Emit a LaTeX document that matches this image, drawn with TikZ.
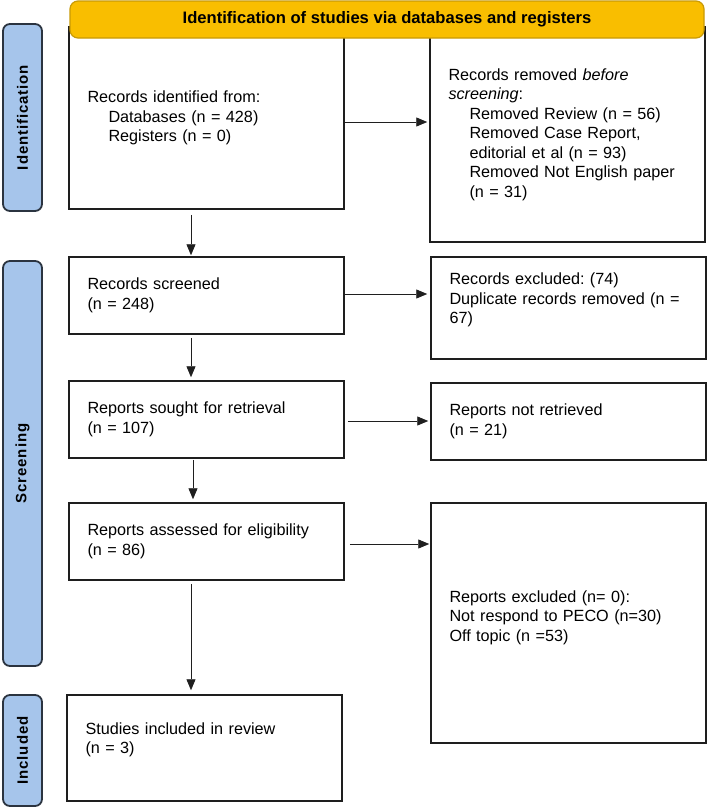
\documentclass[tikz,border=0pt]{standalone}
\usepackage{fontspec}
\setmainfont{Liberation Sans}
\newfontfamily\lblfont{Liberation Sans}[LetterSpace=6]
\usetikzlibrary{arrows.meta}
\definecolor{hdrfill}{HTML}{F9BE00}
\definecolor{hdrdraw}{HTML}{C99A06}
\definecolor{lblfill}{HTML}{A6C5EB}
\definecolor{lbldraw}{HTML}{2B3440}
\definecolor{boxdraw}{HTML}{1E1E1E}
\frenchspacing
\begin{document}
\begin{tikzpicture}[x=1pt,y=-1pt,
  box/.style={draw=boxdraw, line width=1.5pt, fill=white, minimum width=275pt, text width=238pt,
    inner xsep=18.5pt, inner ysep=0pt, align=left, font=\fontsize{16.2}{19.5}\selectfont},
  sidelbl/.style={draw=lbldraw, line width=1.8pt, fill=lblfill, rounded corners=7pt, rotate=90,
    minimum height=39pt, inner sep=0pt, font=\lblfont\bfseries\fontsize{15}{17}\selectfont},
  hdr/.style={draw=hdrdraw, line width=1.2pt, fill=hdrfill, rounded corners=8pt,
    minimum width=634pt, minimum height=37pt, inner sep=0pt, font=\bfseries\fontsize{16.6}{19}\selectfont},
  arr/.style={draw=black!88, line width=0.9pt, -{Triangle[length=11pt,width=9pt]}}
]
\useasboundingbox (0,0) rectangle (708,809);
\fill[white] (0,0) rectangle (708,809);

% side labels
\node[sidelbl, minimum width=187pt] (idlbl) at (22.5,117.5) {Identification};
\node[sidelbl, minimum width=405pt] (scrlbl) at (22.5,463.5) {Screening};
\node[sidelbl, minimum width=111pt] (inclbl) at (22.5,750.5) {Included};

% boxes
\node[box, minimum height=182pt] (idbox) at (206.5,118) {Records identified from:\\
  \hspace*{21pt}Databases (n = 428)\\
  \hspace*{21pt}Registers (n = 0)};
\node[box, minimum height=215pt] (rmbox) at (567.5,134.5) {Records removed \textit{before}\\
  \textit{screening}:\\
  \hspace*{21pt}Removed Review (n = 56)\\
  \hspace*{21pt}Removed Case Report,\\
  \hspace*{21pt}editorial et al (n = 93)\\
  \hspace*{21pt}Removed Not English paper\\
  \hspace*{21pt}(n = 31)};

% header on top
\node[hdr] (hdr) at (387,19.5) {Identification of studies via databases and registers};

\node[box, minimum height=77pt] (scr) at (206.5,295.5) {Records screened\\(n = 248)};
\node[box, minimum height=102pt] (exc) at (568.5,308) {Records excluded: (74)\\Duplicate records removed (n =\\67)\\\mbox{}};
\node[box, minimum height=77pt] (sought) at (206.5,419.5) {Reports sought for retrieval\\(n = 107)};
\node[box, minimum height=77pt] (notret) at (568.5,421.5) {Reports not retrieved\\(n = 21)};
\node[box, minimum height=77pt] (assess) at (206.5,541.5) {Reports assessed for eligibility\\(n = 86)};
\node[box, minimum height=240pt] (repexc) at (568.5,623) {Reports excluded (n= 0):\\Not respond to PECO (n=30)\\Off topic (n =53)\\[-5pt]\mbox{}};
\node[box, minimum height=106pt] (incl) at (204.5,748) {Studies included in review\\(n = 3)\\\mbox{}};

% arrows
\draw[arr, shorten >=2pt] (idbox.east |- 0,122) -- (rmbox.west |- 0,122);
\draw[arr, shorten <=5pt, shorten >=1pt] (idbox.south -| 191,0) -- (scr.north -| 191,0);
\draw[arr, shorten >=3pt] (scr.east |- 0,294) -- (exc.west |- 0,294);
\draw[arr, shorten <=3pt, shorten >=3pt] (scr.south -| 191,0) -- (sought.north -| 191,0);
\draw[arr, shorten <=3pt, shorten >=2pt] (sought.east |- 0,421) -- (notret.west |- 0,421);
\draw[arr, shorten <=1pt, shorten >=3pt] (sought.south -| 193,0) -- (assess.north -| 193,0);
\draw[arr, shorten <=5pt, shorten >=1pt] (assess.east |- 0,544) -- (repexc.west |- 0,544);
\draw[arr, shorten <=3pt, shorten >=4pt] (assess.south -| 191,0) -- (incl.north -| 191,0);
\end{tikzpicture}
\end{document}
